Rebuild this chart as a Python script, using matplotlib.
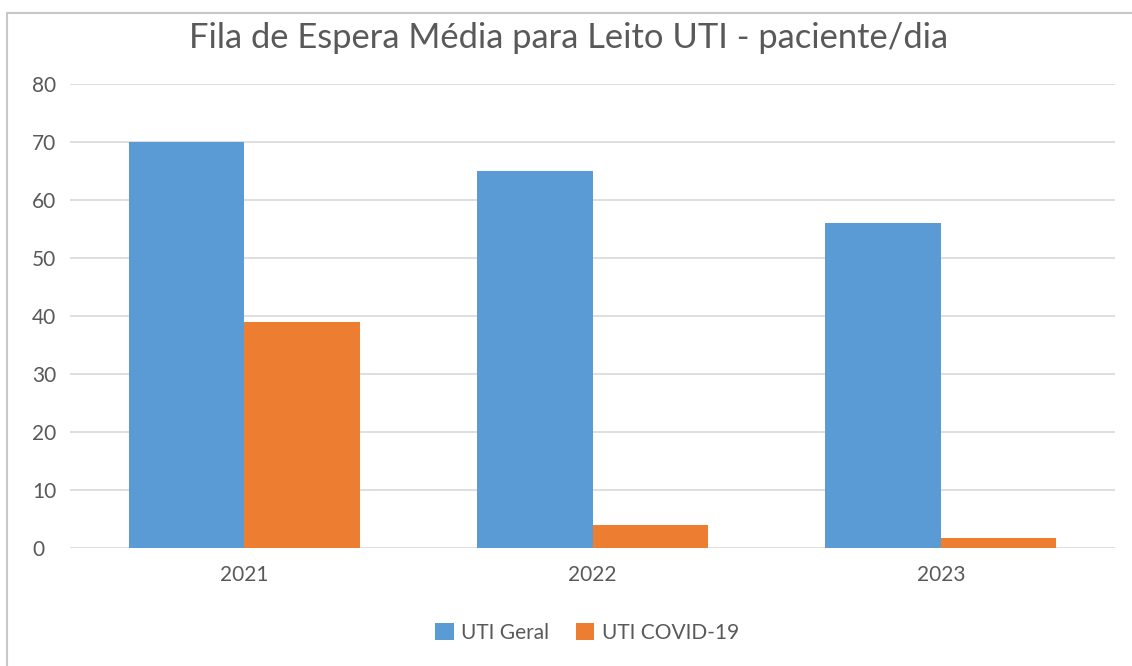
import matplotlib
matplotlib.use('Agg')
from matplotlib import pyplot as plt
from matplotlib.patches import Rectangle
import numpy as np

plt.rcParams['font.family'] = ['Lato', 'DejaVu Sans']

anos = ['2021', '2022', '2023']
uti_geral = [70, 65, 56]
uti_covid = [39, 4, 1.8]
series = ['UTI Geral', 'UTI COVID-19']

AZUL = '#5b9bd5'
LARANJA = '#ed7d31'
CINZA = '#595959'

fig = plt.figure(figsize=(11.32, 6.66), dpi=100)
ax = fig.add_axes([70 / 1132, 1 - 548 / 666, 1045 / 1132, 464 / 666])

x = np.arange(len(anos))
w = 0.332
ax.bar(x - w / 2, uti_geral, w, color=AZUL, label=series[0], zorder=2)
ax.bar(x + w / 2, uti_covid, w, color=LARANJA, label=series[1], zorder=2)

ax.set_xlim(-0.5, 2.5)
ax.set_ylim(0, 80)
ax.set_yticks(np.arange(0, 81, 10))
ax.set_xticks(x)
ax.set_xticklabels(anos)
ax.grid(axis='y', color='#d9d9d9', linewidth=1.2, zorder=0)
for s in ax.spines.values():
    s.set_visible(False)
ax.tick_params(length=0, labelsize=15, colors=CINZA)
ax.tick_params(axis='y', pad=27.4)
ax.tick_params(axis='x', pad=12)
for lbl in ax.get_yticklabels():
    lbl.set_horizontalalignment('left')

fig.text(0.502, 1 - 38 / 666, 'Fila de Espera Média para Leito UTI - paciente/dia',
         ha='center', va='center', fontsize=24.8, color=CINZA)

fig.legend(loc='center', bbox_to_anchor=(0.5186, 1 - 633 / 666), ncol=2, frameon=False,
           fontsize=15, labelcolor=CINZA, handlelength=0.87, handleheight=0.87,
           handletextpad=0.35, columnspacing=1.3)

# moldura da area do grafico
fig.patches.append(Rectangle((7 / 1132, -0.1), 1.2, 1 - 13 / 666 + 0.1, transform=fig.transFigure,
                             fill=False, edgecolor='#c8c8c8', linewidth=1.5))

fig.savefig('out.png', dpi=100)
